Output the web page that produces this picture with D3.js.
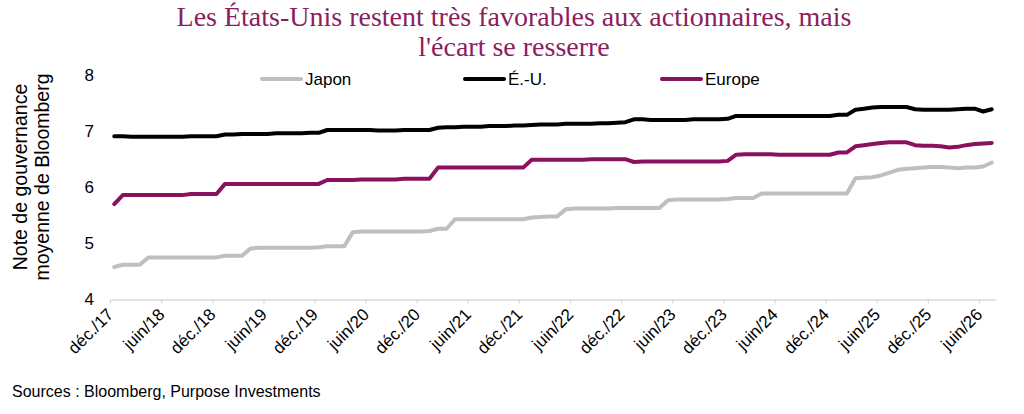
<!DOCTYPE html>
<html>
<head>
<meta charset="utf-8">
<script src="https://cdn.jsdelivr.net/npm/d3@7"></script>
<style>
  html, body { margin: 0; padding: 0; background: #fff; }
  svg { display: block; }
</style>
</head>
<body>
<svg id="chart" width="1024" height="414"></svg>
<script>
// ---- data ----
const titleLines = ["Les États-Unis restent très favorables aux actionnaires, mais", "l'écart se resserre"];
const yTitleLines = ["Note de gouvernance", "moyenne de Bloomberg"];
const sourceText = "Sources : Bloomberg, Purpose Investments";

// monthly categories (déc. 2017 → juil. 2026)
const months = d3.timeMonth.range(new Date(2017, 11, 1), new Date(2026, 7, 1)).map(d3.timeFormat("%Y-%m"));

const tickLabels = ["déc./17","juin/18","déc./18","juin/19","déc./19","juin/20","déc./20","juin/21","déc./21",
                    "juin/22","déc./22","juin/23","déc./23","juin/24","déc./24","juin/25","déc./25","juin/26"];
const yTicks = [4, 5, 6, 7, 8];

const seriesNames = ["Japon", "É.-U.", "Europe"];

const japon = [
  4.58,4.62,4.62,4.62,4.75,4.75,4.75,4.75,4.75,4.75,
  4.75,4.75,4.75,4.78,4.78,4.78,4.91,4.92,4.92,4.92,
  4.92,4.92,4.92,4.92,4.93,4.95,4.95,4.95,5.20,5.21,
  5.21,5.21,5.21,5.21,5.21,5.21,5.21,5.22,5.26,5.26,
  5.43,5.43,5.43,5.43,5.43,5.43,5.43,5.43,5.43,5.46,
  5.47,5.48,5.48,5.61,5.62,5.62,5.62,5.62,5.62,5.63,
  5.63,5.63,5.63,5.63,5.63,5.77,5.78,5.78,5.78,5.78,
  5.78,5.78,5.79,5.81,5.81,5.81,5.89,5.89,5.89,5.89,
  5.89,5.89,5.89,5.89,5.89,5.89,5.89,6.16,6.17,6.18,
  6.21,6.26,6.31,6.33,6.34,6.35,6.36,6.36,6.35,6.34,
  6.35,6.35,6.37,6.44
];
const eu = [
  6.91,6.91,6.90,6.90,6.90,6.90,6.90,6.90,6.90,6.91,
  6.91,6.91,6.91,6.94,6.94,6.95,6.95,6.95,6.95,6.96,
  6.96,6.96,6.96,6.97,6.97,7.02,7.02,7.02,7.02,7.02,
  7.02,7.01,7.01,7.01,7.02,7.02,7.02,7.02,7.06,7.07,
  7.07,7.08,7.08,7.08,7.09,7.09,7.09,7.10,7.10,7.11,
  7.12,7.12,7.12,7.13,7.13,7.13,7.13,7.14,7.14,7.15,
  7.16,7.21,7.21,7.20,7.20,7.20,7.20,7.20,7.21,7.21,
  7.21,7.21,7.22,7.27,7.27,7.27,7.27,7.27,7.27,7.27,
  7.27,7.27,7.27,7.27,7.27,7.29,7.29,7.38,7.40,7.42,
  7.43,7.43,7.43,7.43,7.39,7.38,7.38,7.38,7.38,7.39,
  7.40,7.40,7.35,7.39
];
const europe = [
  5.70,5.86,5.86,5.86,5.86,5.86,5.86,5.86,5.86,5.88,
  5.88,5.88,5.88,6.06,6.06,6.06,6.06,6.06,6.06,6.06,
  6.06,6.06,6.06,6.06,6.06,6.13,6.13,6.13,6.13,6.14,
  6.14,6.14,6.14,6.14,6.15,6.15,6.15,6.15,6.35,6.35,
  6.35,6.35,6.35,6.35,6.35,6.35,6.35,6.35,6.35,6.49,
  6.49,6.49,6.49,6.49,6.49,6.49,6.50,6.50,6.50,6.50,
  6.50,6.45,6.46,6.46,6.46,6.46,6.46,6.46,6.46,6.46,
  6.46,6.46,6.47,6.58,6.59,6.59,6.59,6.59,6.58,6.58,
  6.58,6.58,6.58,6.58,6.58,6.62,6.62,6.73,6.75,6.77,
  6.79,6.80,6.80,6.80,6.75,6.74,6.74,6.73,6.71,6.72,
  6.75,6.77,6.78,6.79
];

const seriesValues = [japon, eu, europe];
const colors = ["#bfbfbf", "#000000", "#8b1060"];

// ---- drawing ----
const svg = d3.select("#chart");
const sans = "Liberation Sans, Arial, sans-serif";

const x = d3.scaleLinear().domain([0, months.length]).range([110, 996]);
const y = d3.scaleLinear().domain([4, 8]).range([299.5, 75]);

// title (two separate lines)
svg.append("g").selectAll("text").data(titleLines).join("text")
  .attr("x", 514)
  .attr("y", (d, i) => 26 + i * 30)
  .attr("text-anchor", "middle")
  .attr("font-family", "Liberation Serif, 'Times New Roman', serif")
  .attr("font-size", 28)
  .attr("fill", "#8c1d5f")
  .text(d => d);

// x axis
const xAxis = d3.axisBottom(x)
  .tickValues(d3.range(0, tickLabels.length * 6, 6))
  .tickFormat(i => tickLabels[i / 6])
  .tickSize(4)
  .tickSizeOuter(0);

const gx = svg.append("g")
  .attr("transform", `translate(0,${y(4)})`)
  .call(xAxis);
gx.select(".domain").attr("stroke", "#d9d9d9").attr("stroke-width", 1.3);
gx.selectAll(".tick line").attr("stroke", "#d9d9d9").attr("stroke-width", 1.3);
gx.selectAll(".tick text")
  .attr("font-family", sans)
  .attr("font-size", 17)
  .attr("fill", "#000")
  .attr("text-anchor", "end")
  .attr("dy", null)
  .attr("y", 0)
  .attr("transform", "translate(4,16) rotate(-45)");

// y axis labels
const yAxis = d3.axisLeft(y).tickValues(yTicks).tickFormat(d3.format("d")).tickSize(0).tickPadding(0);
const gy = svg.append("g").attr("transform", "translate(94,0)").call(yAxis);
gy.select(".domain").remove();
gy.selectAll(".tick text")
  .attr("font-family", sans)
  .attr("font-size", 17)
  .attr("fill", "#000");

// y title
svg.append("text")
  .attr("transform", "translate(27,177) rotate(-90)")
  .attr("text-anchor", "middle")
  .attr("font-family", sans)
  .attr("font-size", 19.5)
  .attr("fill", "#000")
  .selectAll("tspan").data(yTitleLines).join("tspan")
  .attr("x", 0)
  .attr("dy", (d, i) => i === 0 ? 0 : 22)
  .text(d => d);

// lines
const line = d3.line()
  .x((d, i) => x(i + 0.5))
  .y(d => y(d));

svg.append("g").selectAll("path")
  .data(seriesValues)
  .join("path")
  .attr("d", line)
  .attr("fill", "none")
  .attr("stroke", (d, i) => colors[i])
  .attr("stroke-width", 4)
  .attr("stroke-linejoin", "round")
  .attr("stroke-linecap", "round");

// legend
const legendX = [262, 465, 662];
const lg = svg.append("g").selectAll("g")
  .data(seriesNames)
  .join("g")
  .attr("transform", (d, i) => `translate(${legendX[i]},79)`);
lg.append("line")
  .attr("x1", 0).attr("x2", 39)
  .attr("y1", 0).attr("y2", 0)
  .attr("stroke", (d, i) => colors[i])
  .attr("stroke-width", 4)
  .attr("stroke-linecap", "round");
lg.append("text")
  .attr("x", 43).attr("y", 0).attr("dy", "0.35em")
  .attr("font-family", sans)
  .attr("font-size", 17)
  .attr("fill", "#000")
  .text(d => d);

// source
svg.append("text")
  .attr("x", 12).attr("y", 397)
  .attr("font-family", sans)
  .attr("font-size", 16)
  .attr("fill", "#000")
  .text(sourceText);
</script>
</body>
</html>
